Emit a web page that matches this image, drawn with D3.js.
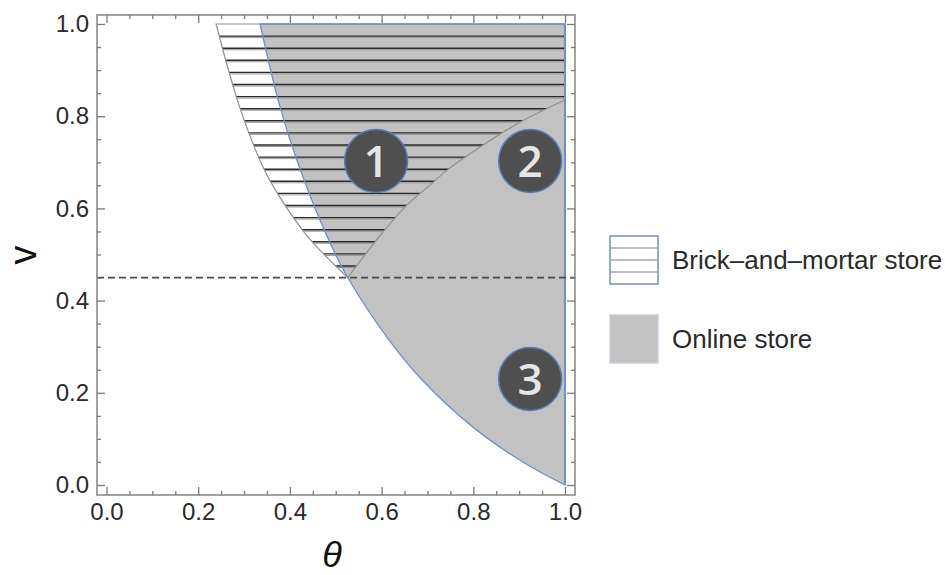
<!DOCTYPE html>
<html>
<head>
<meta charset="utf-8">
<script src="https://cdn.jsdelivr.net/npm/d3@7"></script>
<style>
  body { margin: 0; background: #fff; }
  svg { display: block; }
  text { font-family: "Liberation Sans", Arial, sans-serif; }
</style>
</head>
<body>
<svg width="945" height="575"></svg>
<script>
// boundary of the online-store region (blue curve)
var blueTheta = [0.335, 0.378, 0.426, 0.48, 0.526, 0.618, 0.69, 0.80, 0.908, 1.0];
var blueV     = [1.0, 0.822, 0.675, 0.542, 0.45, 0.312, 0.226, 0.125, 0.05, 0.0];
// left boundary of the brick-and-mortar region
var leftTheta = [0.239, 0.291, 0.346, 0.39, 0.442, 0.526];
var leftV     = [1.0, 0.818, 0.68, 0.606, 0.535, 0.45];
// boundary between regions 1 and 2
var divTheta = [0.526, 0.60, 0.655, 0.712, 0.743, 0.815, 0.902, 1.0];
var divV     = [0.45, 0.545, 0.607, 0.656, 0.683, 0.733, 0.787, 0.835];
// dashed threshold
var thresholdV = 0.45;
// numbered region markers
var regionLabels = ["1", "2", "3"];
var regionTheta = [0.588, 0.924, 0.924];
var regionV = [0.703, 0.703, 0.23];
// ticks
var thetaTicks = [0, 0.2, 0.4, 0.6, 0.8, 1.0];
var vTicks = [0, 0.2, 0.4, 0.6, 0.8, 1.0];
var minorTicks = [0.05, 0.1, 0.15, 0.25, 0.3, 0.35, 0.45, 0.5, 0.55, 0.65, 0.7, 0.75, 0.85, 0.9, 0.95];
var legendNames = ["Brick\u2013and\u2013mortar store", "Online store"];

var svg = d3.select("svg");

var x = d3.scaleLinear().domain([0, 1]).range([106.5, 565]);
var y = d3.scaleLinear().domain([0, 1]).range([485, 24]);
var frame = { left: 97, right: 575, top: 15, bottom: 495 };

var gray = "#c2c2c2";
var blue = "#6f8fc6";

function pts(th, vv) {
    return th.map(function (t, i) { return [x(t), y(vv[i])]; });
}
var smooth = d3.line().curve(d3.curveCatmullRom.alpha(0.5));

// online region path
var bluePts = pts(blueTheta, blueV);
var onlinePath = smooth(bluePts) + "L" + x(1) + "," + y(1) + "Z";

// brick-and-mortar region path
var leftPts = pts(leftTheta, leftV);
var divPts = pts(divTheta, divV);
var brickPath = smooth(leftPts) + smooth(divPts).replace(/^M/, "L") +
    "L" + x(1) + "," + y(1) + "Z";

svg.append("clipPath").attr("id", "brickClip")
    .append("path").attr("d", brickPath);

// gray fill
svg.append("path")
    .attr("d", onlinePath)
    .attr("fill", gray)
    .attr("stroke", "none");

// hatching
var hatchV = d3.range(1 - 0.02625, thresholdV, -0.02625);
var hatch = svg.append("g").attr("clip-path", "url(#brickClip)");
hatch.selectAll("line.lo")
    .data(hatchV)
    .enter().append("line")
    .attr("x1", x(0)).attr("x2", x(1))
    .attr("y1", function (d) { return y(d) + 1.5; })
    .attr("y2", function (d) { return y(d) + 1.5; })
    .attr("stroke", "#9a9a9a")
    .attr("stroke-width", 1);
hatch.selectAll("line.hi")
    .data(hatchV)
    .enter().append("line")
    .attr("x1", x(0)).attr("x2", x(1))
    .attr("y1", function (d) { return y(d); })
    .attr("y2", function (d) { return y(d); })
    .attr("stroke", "#2a2a2a")
    .attr("stroke-width", 1.4);

// outlines
svg.append("path")
    .attr("d", brickPath)
    .attr("fill", "none")
    .attr("stroke", "#8f8f8f")
    .attr("stroke-width", 1.2);
svg.append("path")
    .attr("d", onlinePath)
    .attr("fill", "none")
    .attr("stroke", blue)
    .attr("stroke-width", 1.3);
svg.append("line")
    .attr("x1", x(1)).attr("x2", x(1))
    .attr("y1", y(0)).attr("y2", y(1))
    .attr("stroke", blue)
    .attr("stroke-width", 2);

// dashed threshold line
svg.append("line")
    .attr("x1", frame.left).attr("x2", frame.right)
    .attr("y1", y(thresholdV)).attr("y2", y(thresholdV))
    .attr("stroke", "#4a4a4a")
    .attr("stroke-width", 1.8)
    .attr("stroke-dasharray", "7,4");

// frame and ticks
svg.append("rect")
    .attr("x", frame.left).attr("y", frame.top)
    .attr("width", frame.right - frame.left)
    .attr("height", frame.bottom - frame.top)
    .attr("fill", "none")
    .attr("stroke", "#8c8c8c")
    .attr("stroke-width", 1.6);

function tickAxis(axis, tx, ty, vals, size, labels) {
    var g = svg.append("g")
        .attr("transform", "translate(" + tx + "," + ty + ")")
        .call(axis.tickValues(vals).tickSize(-size).tickPadding(8)
            .tickFormat(labels ? d3.format(".1f") : ""));
    g.select(".domain").remove();
    g.selectAll(".tick line").attr("stroke", "#7a7a7a").attr("stroke-width", 1.3);
    g.selectAll(".tick text")
        .attr("fill", "#2a2a2a")
        .style("font-size", "24px");
    return g;
}
tickAxis(d3.axisBottom(x), 0, frame.bottom, thetaTicks, 8, true);
tickAxis(d3.axisBottom(x), 0, frame.bottom, minorTicks, 4, false);
tickAxis(d3.axisTop(x), 0, frame.top, thetaTicks, 8, false);
tickAxis(d3.axisTop(x), 0, frame.top, minorTicks, 4, false);
tickAxis(d3.axisLeft(y), frame.left, 0, vTicks, 8, true);
tickAxis(d3.axisLeft(y), frame.left, 0, minorTicks, 4, false);
tickAxis(d3.axisRight(y), frame.right, 0, vTicks, 8, false);
tickAxis(d3.axisRight(y), frame.right, 0, minorTicks, 4, false);

// axis titles
svg.append("text")
    .attr("x", 332).attr("y", 567)
    .attr("text-anchor", "middle")
    .style("font-size", "36px")
    .style("font-style", "italic")
    .attr("fill", "#111")
    .text("\u03b8");
svg.append("text")
    .attr("transform", "translate(36,255) rotate(-90)")
    .attr("text-anchor", "middle")
    .style("font-size", "38px")
    .attr("fill", "#111")
    .text("v");

// region markers
var marks = svg.selectAll("g.mark")
    .data(regionLabels)
    .enter().append("g")
    .attr("transform", function (d, i) {
        return "translate(" + x(regionTheta[i]) + "," + y(regionV[i]) + ")";
    });
marks.append("circle")
    .attr("r", 31.5)
    .attr("fill", "#4f4f4f")
    .attr("stroke", "#5a7db3")
    .attr("stroke-width", 1.5);
marks.append("text")
    .attr("text-anchor", "middle")
    .attr("dy", "0.36em")
    .style("font-family", "'Open Sans', sans-serif")
    .style("font-weight", "600")
    .style("font-size", "44px")
    .attr("fill", "#e6e6e6")
    .text(function (d) { return d; });

// legend
var legend = svg.append("g").attr("transform", "translate(610,236)");
var item = legend.selectAll("g")
    .data(legendNames)
    .enter().append("g")
    .attr("transform", function (d, i) { return "translate(0," + i * 79 + ")"; });
item.append("rect")
    .attr("width", 48).attr("height", 48)
    .attr("fill", function (d, i) { return i === 0 ? "#fff" : gray; })
    .attr("stroke", function (d, i) { return i === 0 ? blue : "#c9d0dc"; })
    .attr("stroke-width", 1.5);
legend.selectAll("line")
    .data([12, 24, 36])
    .enter().append("line")
    .attr("x1", 0.75).attr("x2", 47.25)
    .attr("y1", function (d) { return d; })
    .attr("y2", function (d) { return d; })
    .attr("stroke", "#a8a8a8")
    .attr("stroke-width", 1.3);
item.append("text")
    .attr("x", 62).attr("y", 24)
    .attr("dy", "0.35em")
    .style("font-size", "26px")
    .attr("fill", "#2a2a2a")
    .text(function (d) { return d; });
</script>
</body>
</html>
